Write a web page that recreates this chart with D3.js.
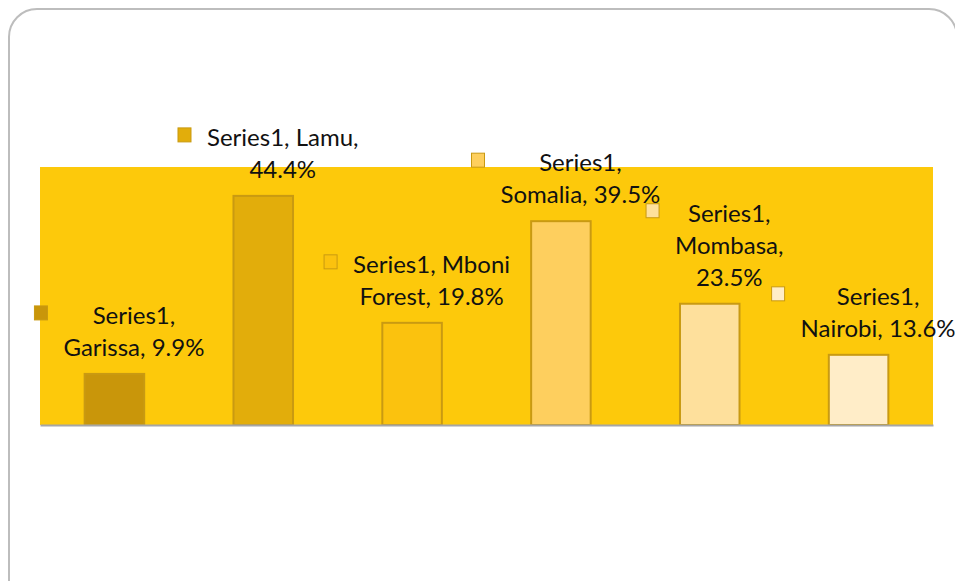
<!DOCTYPE html>
<html>
<head>
<meta charset="utf-8">
<script src="https://cdn.jsdelivr.net/npm/d3@7"></script>
<style>
  html, body { margin: 0; padding: 0; background: #fff; }
  svg { display: block; }
</style>
</head>
<body>
<script>
// chart data
const seriesName = "Series1";
const categories = ["Garissa", "Lamu", "Mboni Forest", "Somalia", "Mombasa", "Nairobi"];
const values = [0.099, 0.444, 0.198, 0.395, 0.235, 0.136];
const barColors = ["#c9960a", "#e2ad0b", "#fbc20e", "#fecf5e", "#fee09c", "#ffedc8"];
// how each data label wraps
const labelLines = [
  ["Series1,", "Garissa, 9.9%"],
  ["Series1, Lamu,", "44.4%"],
  ["Series1, Mboni", "Forest, 19.8%"],
  ["Series1,", "Somalia, 39.5%"],
  ["Series1,", "Mombasa,", "23.5%"],
  ["Series1,", "Nairobi, 13.6%"]
];

const W = 955, H = 581;
const plot = { left: 40, right: 933, top: 167, bottom: 425 };

const svg = d3.select("body").append("svg")
  .attr("width", W).attr("height", H);

// card frame
svg.append("rect")
  .attr("x", 9).attr("y", 9)
  .attr("width", 948).attr("height", 640)
  .attr("rx", 28).attr("ry", 28)
  .attr("fill", "#fff")
  .attr("stroke", "#bdbdbd")
  .attr("stroke-width", 2);

const x = d3.scaleBand()
  .domain(categories)
  .range([plot.left, plot.right])
  .paddingInner(0.6).paddingOuter(0.3);

const y = d3.scaleLinear()
  .domain([0, 0.5])
  .range([plot.bottom, plot.top]);

// plot area background
svg.append("rect")
  .attr("x", plot.left).attr("y", plot.top)
  .attr("width", plot.right - plot.left)
  .attr("height", plot.bottom - plot.top)
  .attr("fill", "#fdc90b");

// bars
svg.selectAll(".bar")
  .data(categories)
  .join("rect")
  .attr("class", "bar")
  .attr("x", d => x(d))
  .attr("y", (d, i) => y(values[i]))
  .attr("width", x.bandwidth())
  .attr("height", (d, i) => y(0) - y(values[i]))
  .attr("fill", (d, i) => barColors[i])
  .attr("stroke", "#c99a12")
  .attr("stroke-width", 2);

// category axis line (no ticks or labels)
const axis = svg.append("g")
  .attr("transform", `translate(0,${plot.bottom})`)
  .call(d3.axisBottom(x).tickSize(0).tickFormat(""));
axis.select(".domain").attr("stroke", "#a6a6a6").attr("stroke-width", 2);

// data labels with legend key
const fontSize = 24, lineH = 32, markW = 13, markGap = 16;
const labels = svg.selectAll(".lbl")
  .data(categories)
  .join("g")
  .attr("class", "lbl");

labels.each(function (d, i) {
  const g = d3.select(this);
  const lines = labelLines[i];
  const texts = lines.map(t => g.append("text")
    .attr("font-family", "Lato, 'Open Sans', sans-serif")
    .attr("font-size", fontSize)
    .attr("fill", "#111")
    .attr("text-anchor", "middle")
    .text(t));
  const maxW = d3.max(texts, t => t.node().getComputedTextLength());
  const cx = x(d) + x.bandwidth() / 2 + 5;
  const blockW = markW + markGap + maxW;
  const left = cx - blockW / 2;
  const textCx = left + markW + markGap + maxW / 2;
  const lastBase = y(values[i]) - 18;
  const firstBase = lastBase - (lines.length - 1) * lineH;
  texts.forEach((t, k) => t.attr("x", textCx).attr("y", firstBase + k * lineH));
  g.insert("rect", "text")
    .attr("x", left).attr("y", firstBase - 18)
    .attr("width", markW).attr("height", 14)
    .attr("fill", barColors[i])
    .attr("stroke", "#c99a12")
    .attr("stroke-width", 1);
});
</script>
</body>
</html>
